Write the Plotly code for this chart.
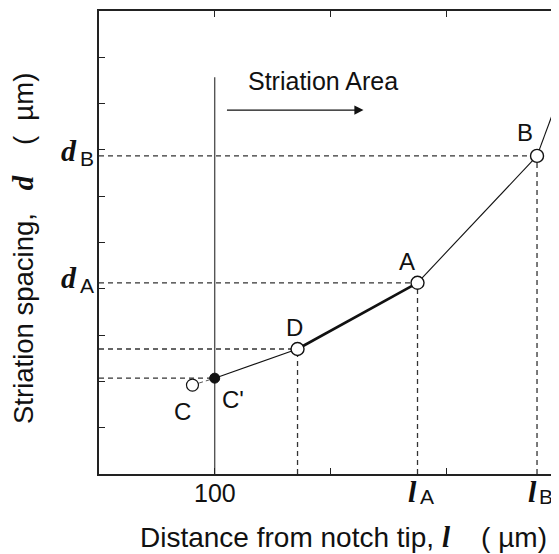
import plotly.graph_objects as go

# ---------------- data ----------------
point_names = ["C", "C'", "D", "A", "B", "E"]
distance_um = [80.8, 100.0, 171.6, 275.3, 378.6, 401.5]
spacing_um = [1.92, 2.07, 2.70, 4.13, 6.87, 8.42]

x_tick_vals = [0, 100, 200, 300]
x_tick_labels = {100: "100"}
y_tick_vals = [1, 2, 3, 4, 5, 6, 7, 8, 9]

x_range = [0, 397.6]
y_range = [0, 10]

striation_x = 100.0
striation_top = 8.57
arrow_from = [109.3, 7.86]
arrow_to = [228.6, 7.86]

SANS = "Arial, Liberation Sans, sans-serif"
SERIF = "Liberation Serif"
INK = "#111111"
DASH_C = "#333333"

pt = dict(zip(point_names, zip(distance_um, spacing_um)))

fig = go.Figure()

# dashed guide lines (horizontal to y axis, vertical to x axis)
for name in ["C'", "D", "A", "B"]:
    x, y = pt[name]
    fig.add_trace(go.Scatter(x=[x_range[0], x], y=[y, y], mode="lines",
                             line=dict(color=DASH_C, width=1.3, dash="5px,4px"),
                             hoverinfo="skip", showlegend=False))
for name in ["D", "A", "B"]:
    x, y = pt[name]
    fig.add_trace(go.Scatter(x=[x, x], y=[y_range[0], y], mode="lines",
                             line=dict(color=DASH_C, width=1.3, dash="5px,4px"),
                             hoverinfo="skip", showlegend=False))

# striation start line
fig.add_trace(go.Scatter(x=[striation_x, striation_x], y=[y_range[0], striation_top],
                         mode="lines", line=dict(color="#555555", width=1.4),
                         hoverinfo="skip", showlegend=False))

# C -> C' short dashed link
fig.add_trace(go.Scatter(x=[pt["C"][0], pt["C'"][0]], y=[pt["C"][1], pt["C'"][1]],
                         mode="lines", line=dict(color="#555555", width=1, dash="4px,3px"),
                         hoverinfo="skip", showlegend=False))

# curve segments
def seg(a, b, w):
    fig.add_trace(go.Scatter(x=[pt[a][0], pt[b][0]], y=[pt[a][1], pt[b][1]],
                             mode="lines", line=dict(color=INK, width=w),
                             hoverinfo="skip", showlegend=False))

seg("C'", "D", 1.1)
seg("D", "A", 2.6)
seg("A", "B", 1.1)
seg("B", "E", 1.1)

# markers
fig.add_trace(go.Scatter(x=[pt["C"][0]], y=[pt["C"][1]], mode="markers",
                         marker=dict(size=12, color="white", line=dict(color=INK, width=1.2)),
                         showlegend=False))
fig.add_trace(go.Scatter(x=[pt["C'"][0]], y=[pt["C'"][1]], mode="markers",
                         marker=dict(size=10, color=INK, line=dict(color=INK, width=1)),
                         showlegend=False))
fig.add_trace(go.Scatter(x=[pt[n][0] for n in ["D", "A", "B", "E"]],
                         y=[pt[n][1] for n in ["D", "A", "B", "E"]], mode="markers",
                         marker=dict(size=13, color="white", line=dict(color=INK, width=1.4)),
                         showlegend=False))

# right-side mirrored y ticks (no line; axis sits just past the picture edge)
fig.add_trace(go.Scatter(x=[pt["B"][0]], y=[pt["B"][1]], yaxis="y2", mode="markers",
                         marker=dict(size=1, opacity=0), hoverinfo="skip", showlegend=False))

# point labels
label_pos = {"A": (265.8, 4.58), "B": (368.6, 7.37), "D": (169.0, 3.17),
             "C": (72.2, 1.34), "C'": (116.2, 1.60)}
for name, (lx, ly) in label_pos.items():
    fig.add_annotation(x=lx, y=ly, text=name, showarrow=False,
                       font=dict(family=SANS, size=24, color=INK),
                       xanchor="center", yanchor="middle")

# Striation Area text + arrow
fig.add_annotation(x=193.6, y=8.49, text="Striation Area", showarrow=False,
                   xanchor="center", yanchor="middle",
                   font=dict(family=SANS, size=25, color=INK))
fig.add_annotation(x=arrow_to[0], y=arrow_to[1], ax=arrow_from[0], ay=arrow_from[1],
                   axref="x", ayref="y", xref="x", yref="y", text="",
                   showarrow=True, arrowhead=2, arrowsize=1.4, arrowwidth=1.3,
                   arrowcolor=INK)

# x tick label "100"
for xv, txt in x_tick_labels.items():
    fig.add_annotation(x=xv, yref="paper", y=0, yshift=-18.5, text=txt,
                       showarrow=False, xanchor="center", yanchor="middle",
                       font=dict(family=SANS, size=25, color=INK))

# d_A, d_B labels on the y axis
for sub, name in [("B", "B"), ("A", "A")]:
    y = pt[name][1]
    fig.add_annotation(xref="paper", x=0, y=y, xshift=-30, yshift=5,
                       xanchor="center", yanchor="middle",
                       text="<b><i>d</i></b>", showarrow=False,
                       font=dict(family=SERIF, size=30, color=INK))
    fig.add_annotation(xref="paper", x=0, y=y, xshift=-12.5, yshift=-3,
                       xanchor="center", yanchor="middle",
                       text=sub, showarrow=False,
                       font=dict(family=SANS, size=21, color=INK))

# l_A, l_B labels on the x axis
for sub, name in [("A", "A"), ("B", "B")]:
    x = pt[name][0]
    fig.add_annotation(x=x, yref="paper", y=0, xshift=-5, yshift=-17,
                       xanchor="center", yanchor="middle",
                       text="<b><i>l</i></b>", showarrow=False,
                       font=dict(family=SERIF, size=30, color=INK))
    fig.add_annotation(x=x, yref="paper", y=0, xshift=9, yshift=-22,
                       xanchor="center", yanchor="middle",
                       text=sub, showarrow=False,
                       font=dict(family=SANS, size=21, color=INK))

# axis titles
SERIF_SPAN = "<span style=\"font-family:Liberation Serif;font-size:29px\"><b><i>{}</i></b></span>"
fig.add_annotation(xref="paper", yref="paper", x=0, y=0, xshift=244, yshift=-63,
                   xanchor="center", yanchor="middle", showarrow=False,
                   text="Distance from notch tip, " + SERIF_SPAN.format("l") + "    ( µm)",
                   font=dict(family=SANS, size=28, color=INK))
fig.add_annotation(xref="paper", yref="paper", x=0, y=0, xshift=-76.5, yshift=225.5,
                   xanchor="center", yanchor="middle", showarrow=False, textangle=-90,
                   text="Striation spacing,   " + SERIF_SPAN.format("d") + "    (  µm)",
                   font=dict(family=SANS, size=27.5, color=INK))

axis_common = dict(showgrid=False, zeroline=False, ticks="inside", ticklen=6,
                   tickwidth=1.3, tickcolor="#222222")

# page body has an 8px margin: figure is 8px smaller so the plot lands where the reference has it
fig.update_layout(
    width=551, height=546,
    margin=dict(l=91, r=0, t=3, b=80, pad=0),
    paper_bgcolor="white", plot_bgcolor="white",
    showlegend=False,
    xaxis=dict(range=x_range, tickvals=x_tick_vals, showticklabels=False,
               showline=True, linecolor="#222222", linewidth=2, mirror="ticks",
               **axis_common),
    yaxis=dict(range=y_range, tickvals=y_tick_vals, showticklabels=False,
               showline=True, linecolor="#222222", linewidth=2, mirror=False,
               **axis_common),
    yaxis2=dict(range=y_range, tickvals=y_tick_vals, showticklabels=False,
                overlaying="y", side="right", showline=False, showgrid=False,
                zeroline=False, ticks="inside", ticklen=3, tickwidth=1.3,
                tickcolor="#222222"),
)

fig.write_html("out.html")
